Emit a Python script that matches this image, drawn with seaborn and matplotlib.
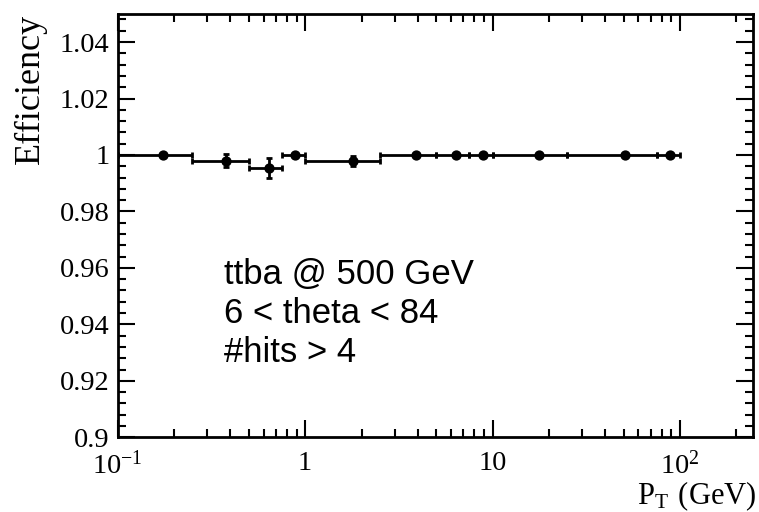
import seaborn as sns
import matplotlib.pyplot as plt
import matplotlib.ticker as mticker
import numpy as np
import pandas as pd

# data
bin_low = [0.1, 0.25, 0.5, 0.75, 1.0, 2.5, 5.0, 7.5, 10.0, 25.0, 75.0]
bin_high = [0.25, 0.5, 0.75, 1.0, 2.5, 5.0, 7.5, 10.0, 25.0, 75.0, 100.0]
pt = [0.175, 0.38, 0.64, 0.88, 1.8, 3.9, 6.4, 8.9, 17.8, 51.0, 89.0]
eff = [1.0, 0.9979, 0.9954, 1.0, 0.998, 1.0, 1.0, 1.0, 1.0, 1.0, 1.0]
eff_err = [0.0003, 0.0023, 0.0034, 0.0004, 0.0018, 0.0002, 0.0002, 0.0002, 0.0002, 0.0002, 0.0002]

df = pd.DataFrame({"pt": pt, "eff": eff})

sns.set_style("ticks")
plt.rcParams["font.family"] = ["Liberation Serif", "DejaVu Serif"]
plt.rcParams["text.color"] = "black"

fig = plt.figure(figsize=(7.59, 5.12), dpi=100)
ax = fig.add_axes([0.155, 0.146, 0.837, 0.827])

xerr = [np.array(pt) - np.array(bin_low), np.array(bin_high) - np.array(pt)]
ax.errorbar(pt, eff, xerr=xerr, yerr=eff_err, fmt="none", ecolor="black",
            elinewidth=2, capsize=2.5, capthick=2, zorder=2)
sns.scatterplot(data=df, x="pt", y="eff", color="black", s=55, edgecolor="black",
                linewidth=0, zorder=3, ax=ax)

ax.set_xscale("log")
ax.set_xlim(0.1, 245)
ax.set_ylim(0.9, 1.05)

ax.set_yticks([0.9, 0.92, 0.94, 0.96, 0.98, 1.0, 1.02, 1.04])
ax.set_yticklabels(["0.9", "0.92", "0.94", "0.96", "0.98", "1", "1.02", "1.04"])
ax.yaxis.set_minor_locator(mticker.MultipleLocator(0.004))
ax.set_xticks([0.1, 1, 10, 100])
ax.set_xticklabels(["$\\mathregular{10^{-1}}$", "1", "10", "$\\mathregular{10^{2}}$"])
ax.xaxis.set_minor_locator(mticker.LogLocator(base=10, subs=np.arange(2, 10)))
ax.xaxis.set_minor_formatter(mticker.NullFormatter())

ax.tick_params(which="both", direction="in", top=True, right=True,
               width=1.5, colors="black", labelsize=20.5)
ax.tick_params(which="major", length=12)
ax.tick_params(which="minor", length=6)
ax.tick_params(axis="y", which="major", pad=6)
ax.tick_params(axis="x", which="major", pad=10)
for sp in ax.spines.values():
    sp.set_linewidth(2)
    sp.set_color("black")

ax.set_xlabel("")
ax.set_ylabel("")
fig.text(0.997, 0.015, "$\\mathregular{P_{T}\\ (GeV)}$", ha="right", va="baseline", fontsize=22)
fig.text(0.018, 0.973, "Efficiency", rotation=90, ha="left", va="top", fontsize=26)

for i, line in enumerate(["ttba @ 500 GeV", "6 < theta < 84", "#hits > 4"]):
    ax.text(0.168, 0.362 - i * 0.092, line, transform=ax.transAxes, color="black",
            fontsize=25, family="Liberation Sans", va="baseline")

fig.savefig("out.png", dpi=100)
